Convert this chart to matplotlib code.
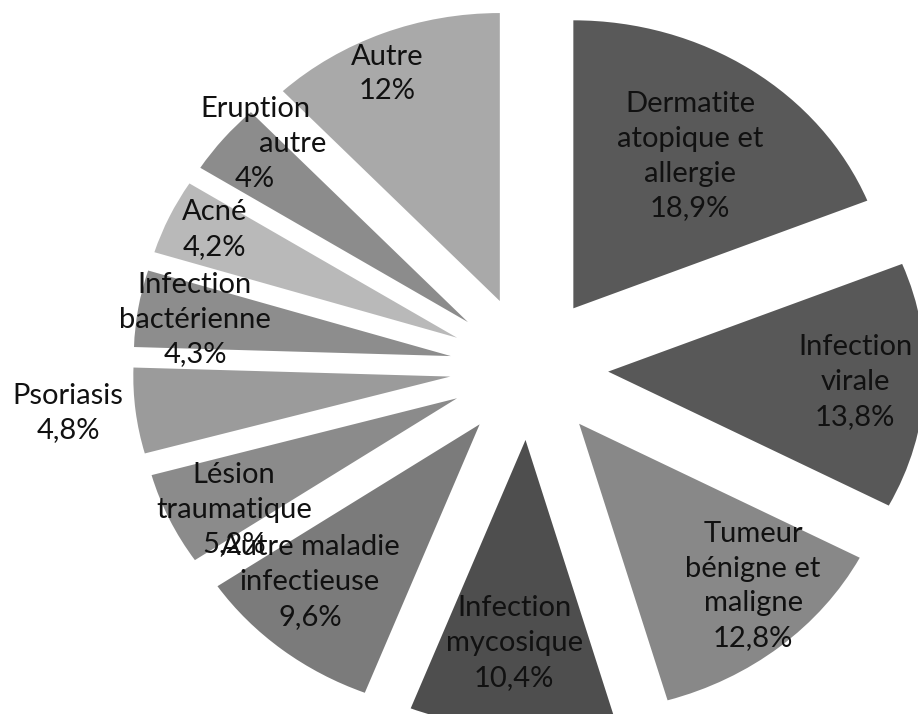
import matplotlib
matplotlib.use("Agg")
import matplotlib.pyplot as plt
import numpy as np

# ---- data ----
categories = [
    "Dermatite\natopique et\nallergie",
    "Infection\nvirale",
    "Tumeur\nbénigne et\nmaligne",
    "Infection\nmycosique",
    "Autre maladie\ninfectieuse",
    "Lésion\ntraumatique",
    "Psoriasis",
    "Infection\nbactérienne",
    "Acné",
    "Eruption\n          autre",
    "Autre",
]
values = [18.9, 13.8, 12.8, 10.4, 9.6, 5.2, 4.8, 4.3, 4.2, 4.0, 12.0]
colors = ["#595959", "#585858", "#888888", "#4e4e4e", "#7b7b7b", "#8b8b8b",
          "#9b9b9b", "#8d8d8d", "#b9b9b9", "#8c8c8c", "#a9a9a9"]

# label placement (radius from pie centre, angle tweak in degrees clockwise)
label_r = [0.894, 1.03, 1.036, 0.956, 1.015, 1.053, 1.462, 1.067, 1.102, 1.163, 1.115]
label_dang = [0.6, -0.2, -3.8, 0.3, 4.4, -3.0, 0.7, -0.5, 1.1, 2.4, -2.1]

W, H = 918, 714
fig = plt.figure(figsize=(W / 100, H / 100), dpi=100)
ax = fig.add_axes([0, 0, 1, 1])

ax.pie(values, explode=[0.25] * len(values), startangle=90, counterclock=False,
       colors=colors, radius=1, wedgeprops=dict(linewidth=0))
ax.set_aspect("auto")
cx, cy, rx, ry = 529, 368, 317, 288
ax.set_xlim(-cx / rx, (W - cx) / rx)
ax.set_ylim(-(H - cy) / ry, cy / ry)
ax.axis("off")

def fmt(v):
    return ("%g" % v).replace(".", ",") + "%"

cum = 0.0
for name, v, r, da in zip(categories, values, label_r, label_dang):
    mid = cum + v / 2.0
    cum += v
    ang = np.deg2rad(90 - (mid / 100.0 * 360.0 + da))
    x, y = r * np.cos(ang), r * np.sin(ang)
    ax.text(x, y, name + "\n" + fmt(v), ha="center", va="center",
            multialignment="center", fontsize=21, family="Lato",
            color="#111111", linespacing=1.42)

fig.savefig("out.png", dpi=100, facecolor="white")
